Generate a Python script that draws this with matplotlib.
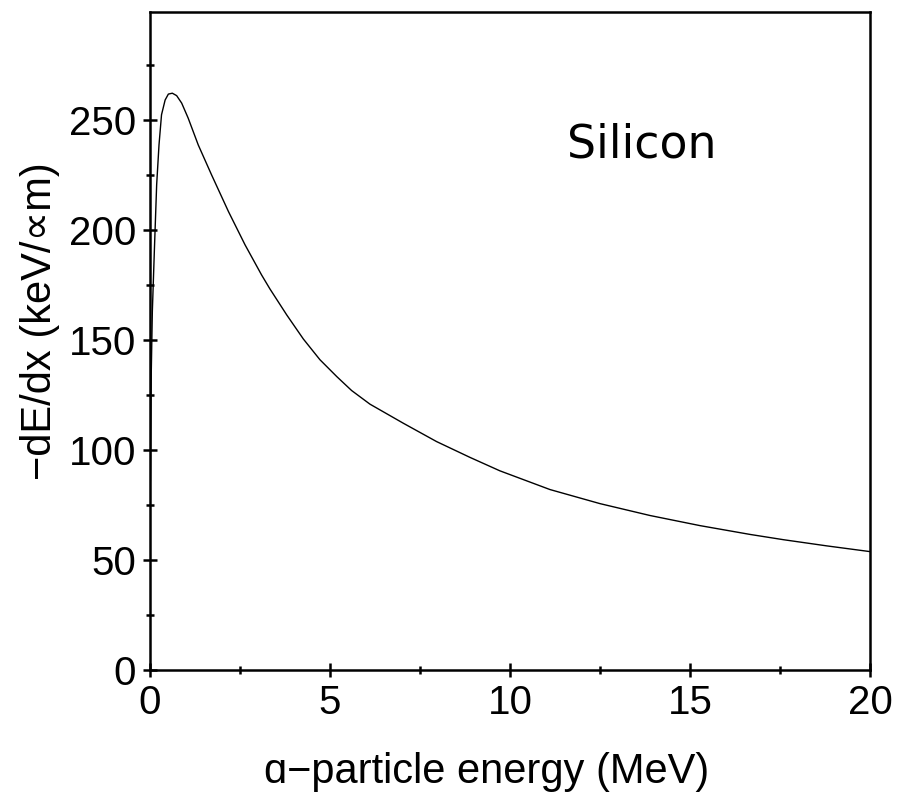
import numpy as np
import matplotlib.pyplot as plt
from matplotlib.ticker import MultipleLocator

# stopping power of alpha particles in silicon
energy = [0.01, 0.035, 0.065, 0.12, 0.185, 0.25, 0.32, 0.42, 0.51, 0.62,
          0.74, 0.88, 1.06, 1.34, 1.71, 2.18, 2.64, 3.10, 3.33, 3.80,
          4.26, 4.72, 5.19, 5.6, 6.11, 7.04, 7.96, 8.89, 9.72, 11.11, 12.5,
          13.89, 15.28, 16.67, 17.6, 18.8, 20.0]
dedx = [86, 135, 162.9, 190, 220.5, 238.6, 252.3, 259, 261.7, 262.1,
        261, 257.6, 250.8, 238.6, 225, 208.3, 193.2, 179.5, 173.2, 161.3,
        150.4, 141.0, 133.3, 127.0, 120.8, 112.1, 103.8, 96.6, 90.5, 82.0,
        75.6, 70.2, 65.6, 61.6, 59.2, 56.4, 53.8]

plt.rcParams['font.family'] = ['Liberation Sans', 'DejaVu Sans']

fig = plt.figure(figsize=(8.98, 8.0), dpi=100)
ax = fig.add_axes([150/898, 130/800, 720/898, 658/800])

ax.plot(energy, dedx, color='black', lw=1.0)

ax.set_xlim(0, 20)
ax.set_ylim(0, 299)
ax.xaxis.set_major_locator(MultipleLocator(5))
ax.xaxis.set_minor_locator(MultipleLocator(2.5))
ax.yaxis.set_major_locator(MultipleLocator(50))
ax.yaxis.set_minor_locator(MultipleLocator(25))
ax.tick_params(which='major', direction='inout', length=10, width=1.8,
               labelsize=29, pad=5)
ax.tick_params(which='minor', direction='inout', length=6, width=1.8)
for s in ax.spines.values():
    s.set_linewidth(1.8)

ax.set_xlabel('ɑ\u2212particle energy (MeV)', fontsize=30, labelpad=22)
ax.set_ylabel('\u2212dE/dx (keV/\u221dm)', fontsize=30, labelpad=6)
ax.xaxis.label.set_x(0.468)
ax.yaxis.label.set_y(0.53)

ax.text(11.58, 232.7, 'Silicon', fontsize=33, family='DejaVu Sans')

fig.savefig('out.png', dpi=100)
